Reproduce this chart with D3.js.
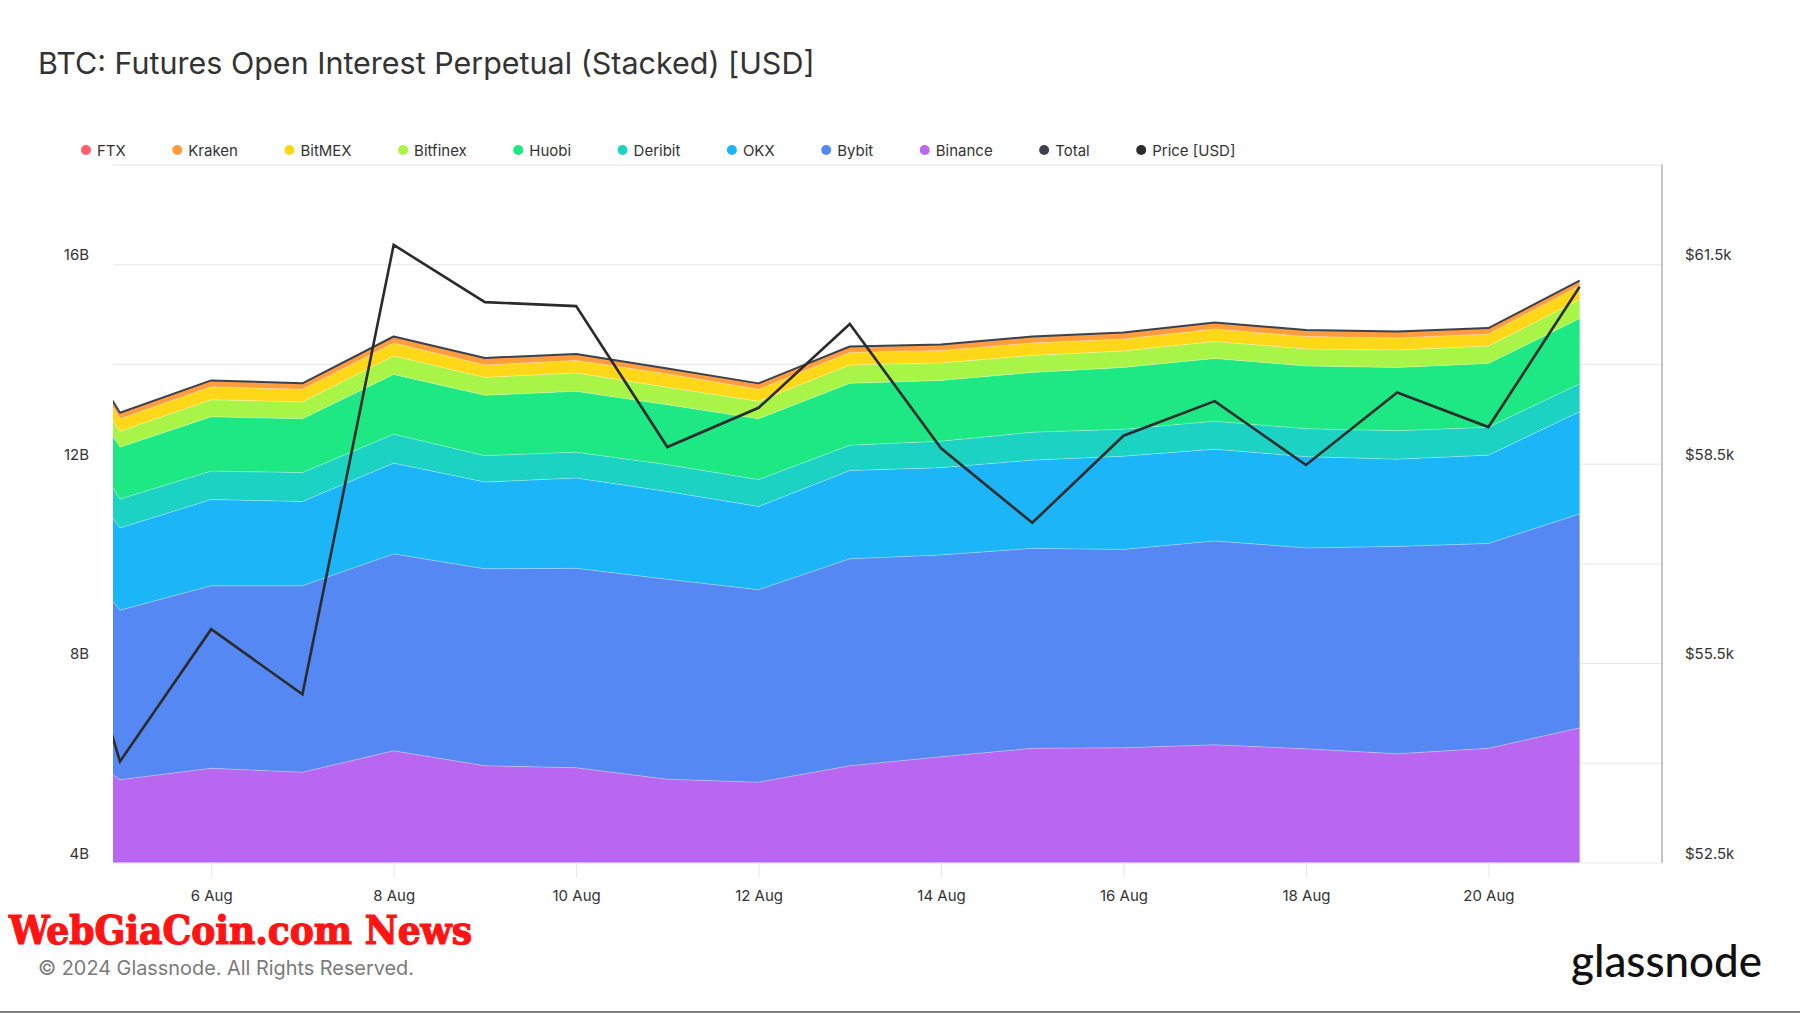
<!DOCTYPE html>
<html><head><meta charset="utf-8">
<script src="https://cdn.jsdelivr.net/npm/d3@7/dist/d3.min.js"></script>
<style>html,body{margin:0;padding:0;background:#fff;} svg{display:block;}</style>
</head><body>
<script>
// ---------- DATA ----------
const dates = ["2024-08-04","2024-08-05","2024-08-06","2024-08-07","2024-08-08","2024-08-09","2024-08-10","2024-08-11","2024-08-12","2024-08-13","2024-08-14","2024-08-15","2024-08-16","2024-08-17","2024-08-18","2024-08-19","2024-08-20","2024-08-21"];
// Open interest, billions USD
const binance  = [6.96,5.66,5.89,5.81,6.24,5.94,5.90,5.67,5.61,5.94,6.12,6.29,6.30,6.36,6.28,6.18,6.29,6.70];
const bybit    = [4.45,3.40,3.66,3.74,3.95,3.95,4.00,4.01,3.86,4.15,4.05,4.01,3.98,4.09,4.03,4.16,4.11,4.29];
const okx      = [1.90,1.65,1.73,1.69,1.82,1.74,1.81,1.76,1.67,1.77,1.75,1.77,1.87,1.84,1.83,1.75,1.77,2.05];
const deribit  = [0.84,0.58,0.57,0.58,0.58,0.53,0.52,0.54,0.54,0.51,0.53,0.56,0.54,0.56,0.56,0.57,0.56,0.56];
const huobi    = [0.99,1.04,1.09,1.08,1.20,1.21,1.22,1.20,1.22,1.24,1.22,1.20,1.24,1.26,1.26,1.27,1.28,1.31];
const bitfinex = [0.30,0.32,0.34,0.34,0.37,0.36,0.37,0.35,0.35,0.37,0.35,0.34,0.33,0.34,0.34,0.35,0.35,0.38];
const bitmex   = [0.40,0.25,0.26,0.25,0.26,0.25,0.25,0.27,0.24,0.25,0.25,0.25,0.24,0.25,0.25,0.24,0.24,0.28];
const kraken   = [0.15,0.12,0.13,0.12,0.13,0.14,0.13,0.11,0.12,0.12,0.12,0.13,0.13,0.13,0.13,0.13,0.12,0.10];
const ftx      = [0,0,0,0,0,0,0,0,0,0,0,0,0,0,0,0,0,0];
// BTC price, thousands USD
const price    = [58.59,54.02,56.01,55.03,61.79,60.93,60.87,58.75,59.34,60.60,58.73,57.61,58.92,59.44,58.48,59.57,59.05,61.16];

const legendNames  = ["FTX","Kraken","BitMEX","Bitfinex","Huobi","Deribit","OKX","Bybit","Binance","Total","Price [USD]"];
const legendColors = ["#ff5f6d","#ff9c3d","#ffd719","#a8f547","#1de883","#1bd2c3","#1bb5f8","#5688f4","#b967f1","#3c4150","#2c2c2c"];
const stackKeys    = ["binance","bybit","okx","deribit","huobi","bitfinex","bitmex","kraken","ftx"];
const stackColors  = ["#b967f1","#5688f4","#1bb5f8","#1bd2c3","#1de883","#a8f547","#ffd719","#ff9c3d","#ff5f6d"];
const leftTicks  = [4,8,12,16];
const rightTicks = [52.5,55.5,58.5,61.5];
const xTickDates = ["2024-08-06","2024-08-08","2024-08-10","2024-08-12","2024-08-14","2024-08-16","2024-08-18","2024-08-20"];

// ---------- LAYOUT ----------
const W = 1800, H = 1013;
const L = 113, R = 1662, T = 164.5, B = 862.5;
const FONT = "Inter, 'Noto Sans', sans-serif";

const svg = d3.select("body").append("svg").attr("width", W).attr("height", H);

const parse = d3.utcParse("%Y-%m-%d");
const x = d3.scaleUtc()
  .domain([new Date(Date.UTC(2024,7,4,22,10)), new Date(Date.UTC(2024,7,21,21,40))])
  .range([L, R]);
const y = d3.scaleLinear().domain([4, 18]).range([B, T]);
const yP = d3.scaleLinear().domain([52.5, 63]).range([B, T]);

const table = dates.map((d, i) => ({
  date: parse(d), binance: binance[i], bybit: bybit[i], okx: okx[i], deribit: deribit[i],
  huobi: huobi[i], bitfinex: bitfinex[i], bitmex: bitmex[i], kraken: kraken[i], ftx: ftx[i], price: price[i]
}));

function fit(sel, target) {
  const fs = +sel.attr("font-size");
  const len = sel.node().getComputedTextLength();
  sel.attr("font-size", fs * target / len);
}

// Title
const title = svg.append("text").attr("x", 38).attr("y", 74)
  .attr("font-family", FONT).attr("font-size", 26).attr("fill", "#333")
  .text("BTC: Futures Open Interest Perpetual (Stacked) [USD]");
fit(title, 777);

// Grid
const grid = svg.append("g").attr("transform", `translate(${L},0)`)
  .call(d3.axisLeft(y).tickValues(d3.range(4, 18.001, 2)).tickSize(-(R - L)).tickFormat(""));
grid.select(".domain").remove();
grid.selectAll("line").attr("stroke", "#e6e6e6").attr("stroke-width", 1);

// Clip
svg.append("clipPath").attr("id", "plot").append("rect")
  .attr("x", L).attr("y", T - 5).attr("width", R - L).attr("height", B - T + 5);

const plot = svg.append("g").attr("clip-path", "url(#plot)");

const stack = d3.stack().keys(stackKeys);
const layers = stack(table);
const area = d3.area().x(d => x(d.data.date)).y0(d => y(d[0])).y1(d => y(d[1]));
const topLine = d3.line().x(d => x(d.data.date)).y(d => y(d[1]));

plot.selectAll("path.layer").data(layers).join("path")
  .attr("class", "layer").attr("d", area)
  .attr("fill", (d, i) => stackColors[i]);
plot.selectAll("path.edge").data(layers.slice(0, 7)).join("path")
  .attr("class", "edge").attr("d", topLine)
  .attr("fill", "none").attr("stroke", "rgba(255,255,255,0.3)").attr("stroke-width", 1);

// Total line
const totals = table.map(r => ({ date: r.date, v: d3.sum(stackKeys, k => r[k]) }));
plot.append("path").datum(totals)
  .attr("d", d3.line().x(d => x(d.date)).y(d => y(d.v)))
  .attr("fill", "none").attr("stroke", "#3c4150").attr("stroke-width", 2).attr("stroke-linejoin", "round");

// Price line
plot.append("path").datum(table)
  .attr("d", d3.line().x(d => x(d.date)).y(d => yP(d.price)))
  .attr("fill", "none").attr("stroke", "#2b2b2b").attr("stroke-width", 2.6).attr("stroke-linejoin", "miter");

// Right axis line
svg.append("line").attr("x1", R).attr("x2", R).attr("y1", T).attr("y2", B)
  .attr("stroke", "#a0a0a0").attr("stroke-width", 1.2);

// Left labels
const la = svg.append("g").attr("transform", `translate(89,0)`)
  .call(d3.axisLeft(y).tickValues(leftTicks).tickSize(0).tickPadding(0).tickFormat(d => d + "B"));
la.select(".domain").remove();
la.selectAll("text").attr("font-family", FONT).attr("font-size", 15).attr("fill", "#333")
  .attr("x", 0).attr("dy", null).attr("y", -10).attr("dominant-baseline", "central");

// Right labels
const ra = svg.append("g").attr("transform", `translate(1685,0)`)
  .call(d3.axisRight(yP).tickValues(rightTicks).tickSize(0).tickPadding(0).tickFormat(d => "$" + d + "k"));
ra.select(".domain").remove();
ra.selectAll("text").attr("font-family", FONT).attr("font-size", 15).attr("fill", "#333")
  .attr("x", 0).attr("dy", null).attr("y", -10).attr("dominant-baseline", "central");

// X axis
const xa = svg.append("g").attr("transform", `translate(0,${B})`)
  .call(d3.axisBottom(x).tickValues(xTickDates.map(parse)).tickSize(15).tickPadding(0).tickFormat(d3.utcFormat("%-d %b")));
xa.select(".domain").remove();
xa.selectAll("line").attr("stroke", "#e6e6e6");
xa.selectAll("text").attr("font-family", FONT).attr("font-size", 15).attr("fill", "#333")
  .attr("y", 32.5).attr("dy", null).attr("dominant-baseline", "central");

// Legend
const lg = svg.append("g");
let cx = 86;
legendNames.forEach((n, i) => {
  lg.append("circle").attr("cx", cx).attr("cy", 150).attr("r", 5).attr("fill", legendColors[i]);
  const t = lg.append("text").attr("x", cx + 11).attr("y", 150).attr("dominant-baseline", "central")
    .attr("font-family", FONT).attr("font-size", 15).attr("fill", "#333").text(n);
  cx = cx + 11 + t.node().getComputedTextLength() + 51.5;
});

// Watermark
svg.append("text").attr("x", 9).attr("y", 944)
  .attr("font-family", "'DejaVu Serif Condensed','DejaVu Serif',serif").attr("font-weight", "bold")
  .attr("font-stretch", "condensed").attr("font-size", 40).attr("fill", "#ff1414")
  .attr("stroke", "#ff1414").attr("stroke-width", 1.2)
  .attr("textLength", 463).attr("lengthAdjust", "spacingAndGlyphs")
  .text("WebGiaCoin.com News");

// Copyright
const cp = svg.append("text").attr("x", 38).attr("y", 975)
  .attr("font-family", FONT).attr("font-size", 19).attr("fill", "#7a7a7a")
  .text("© 2024 Glassnode. All Rights Reserved.");
fit(cp, 376);

// Logo
const logo = svg.append("text").attr("x", 1571).attr("y", 977)
  .attr("font-family", "Lato, sans-serif").attr("font-weight", 500).attr("font-size", 42).attr("fill", "#111")
  .text("glassnode");
fit(logo, 191);

// Bottom border
svg.append("rect").attr("x", 0).attr("y", 1011).attr("width", W).attr("height", 2).attr("fill", "#808080");
</script>
</body></html>
